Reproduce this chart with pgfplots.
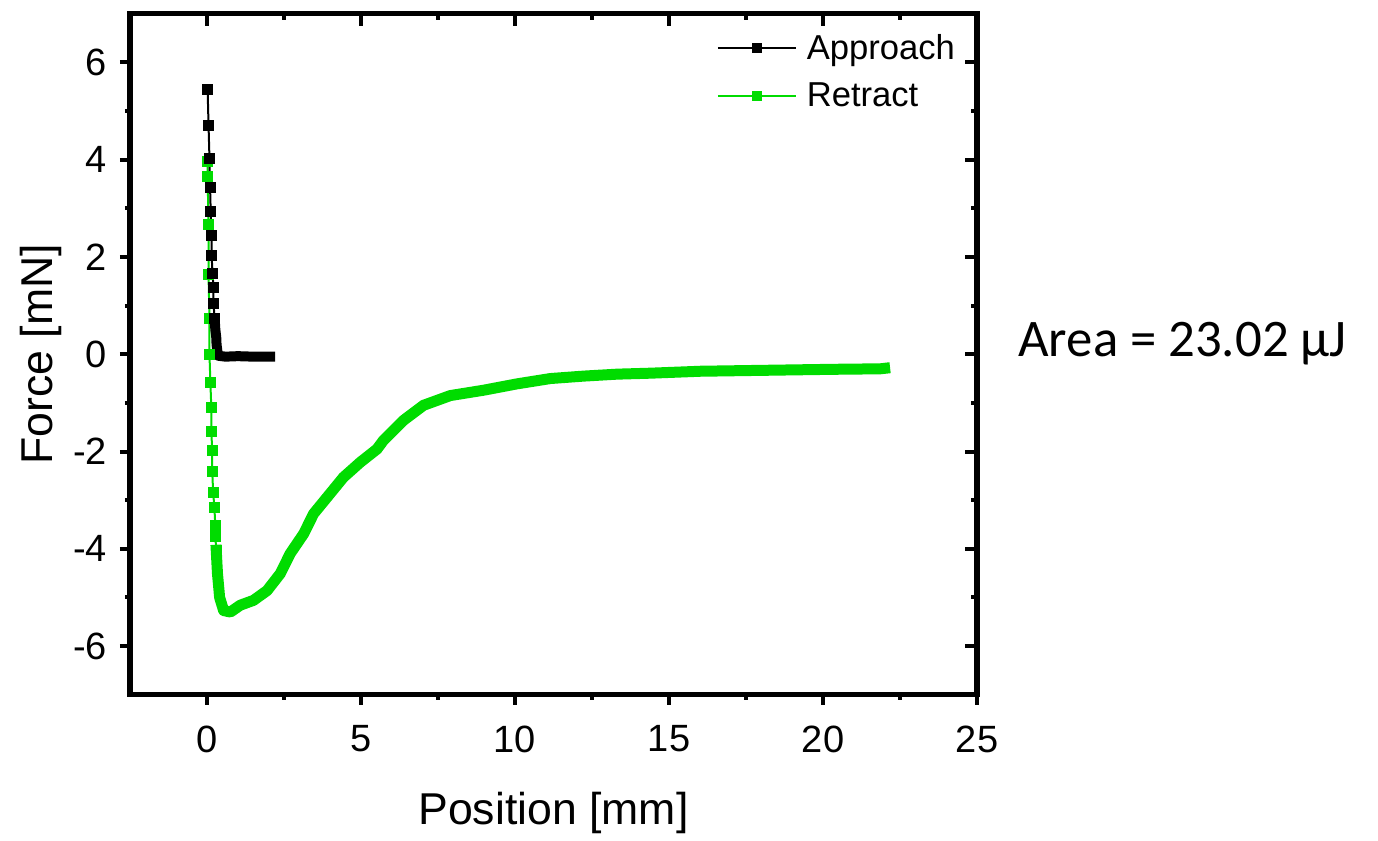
\documentclass[border=0pt]{standalone}
\usepackage{pgfplots}
\pgfplotsset{compat=1.18}
\usepackage{fontspec}
\setmainfont{Liberation Sans}
\newfontfamily\carlito{Carlito}
\definecolor{retgreen}{RGB}{0,220,0}

\begin{document}
\begin{tikzpicture}
  % Approach: sparse part (markers), dense tail (thick band)
  \pgfplotstableread{
    x     y
    0.02  5.45
    0.05  4.71
    0.08  4.03
    0.10  3.43
    0.12  2.94
    0.15  2.44
    0.15  2.03
    0.18  1.66
    0.21  1.37
    0.21  1.04
    0.25  0.73
  }\apprsparse
  \pgfplotstableread{
    x     y
    0.25  0.73
    0.27  0.51
    0.30  0.35
    0.31  0.20
    0.33  0.10
    0.35  -0.03
    0.60  -0.05
    1.00  -0.04
    1.50  -0.05
    2.05  -0.05
  }\apprdense
  % Retract
  \pgfplotstableread{
    x     y
    0.02  3.97
    0.02  3.66
    0.05  2.66
    0.05  1.63
    0.08  0.73
    0.08  0.00
    0.11  -0.58
    0.14  -1.10
    0.14  -1.59
    0.17  -1.98
    0.17  -2.41
    0.20  -2.84
    0.24  -3.15
    0.27  -3.52
    0.27  -3.74
    0.30  -4.03
  }\retsparse
  \pgfplotstableread{
    x      y
    0.30   -4.03
    0.34   -4.51
    0.41   -5.00
    0.54   -5.27
    0.76   -5.30
    1.08   -5.16
    1.51   -5.06
    1.95   -4.86
    2.38   -4.51
    2.70   -4.10
    3.14   -3.69
    3.46   -3.28
    3.90   -2.94
    4.43   -2.53
    4.98   -2.22
    5.52   -1.95
    5.73   -1.77
    6.38   -1.36
    7.03   -1.05
    7.90   -0.85
    8.98   -0.74
    10.06  -0.61
    11.15  -0.50
    12.23  -0.45
    13.31  -0.41
    14.39  -0.39
    16.02  -0.35
    18.18  -0.33
    20.34  -0.31
    21.86  -0.30
    22.00  -0.29
  }\retdense

  \pgfplotsset{
    frame/.style={
      scale only axis,
      width=423.5pt, height=340.5pt,
      xmin=-2.5, xmax=25, ymin=-7, ymax=7,
      xtick={0,5,...,25}, ytick={-6,-4,...,6},
      minor x tick num=1, minor y tick num=1,
      axis line style={line width=2.75pt, line cap=rect},
      every tick/.style={line width=2pt, black},
    },
  }

  \begin{axis}[
    frame,
    tick align=outside,
    xtick pos=bottom, ytick pos=left,
    major tick length=5pt, minor tick length=2.5pt,
    tick label style={font=\fontsize{19}{22}\selectfont},
    /pgf/number format/assume math mode=true,
    xticklabel style={yshift=-7pt},
    yticklabel style={xshift=-3pt},
    xlabel={Position [mm]}, ylabel={Force [mN]},
    label style={font=\fontsize{22.3}{26}\selectfont},
    xlabel style={at={(axis description cs:0.5,-0.174)}, anchor=center},
    ylabel style={at={(axis description cs:-0.105,0.5)}, anchor=center},
    legend style={draw=none, fill=none, at={(axis description cs:0.69,0.979)},
      anchor=north west, font=\fontsize{17.3}{21}\selectfont,
      row sep=6pt, inner sep=1pt,
      nodes={inner xsep=5pt}},
    legend cell align=left,
    legend image code/.code={
      \draw[#1, mark repeat=2, mark phase=2]
        plot coordinates {(0pt,0pt) (19.5pt,0pt) (39pt,0pt)};},
    clip=false,
  ]
    \addlegendimage{black, line width=1pt, mark=square*, mark size=2pt}
    \addlegendentry{Approach}
    \addlegendimage{retgreen, line width=1pt, mark=square*, mark size=2pt}
    \addlegendentry{Retract}

    % Retract first (drawn beneath Approach)
    \addplot[forget plot, retgreen, line width=1pt, mark=square*, mark size=2.25pt]
      table {\retsparse};
    \addplot[forget plot, retgreen, line width=5.5pt, line join=round, line cap=rect]
      table {\retdense};
    % Approach
    \addplot[forget plot, black, line width=1pt, mark=square*, mark size=2.25pt]
      table {\apprsparse};
    \addplot[forget plot, black, line width=5pt, line join=round, line cap=rect]
      table {\apprdense};

    \coordinate (sw) at (rel axis cs:0,0);
    \coordinate (ne) at (rel axis cs:1,1);
    \node[anchor=west, inner sep=0pt, font=\carlito\fontsize{26.4}{30}\selectfont]
      at (rel axis cs:1.0484,0.516) {Area = 23.02 µJ};
  \end{axis}

  % mirrored ticks, pointing inward, on top and right
  \begin{axis}[
    frame,
    tick align=inside,
    xtick pos=top, ytick pos=right,
    major tick length=6pt, minor tick length=3pt,
    xticklabels={}, yticklabels={},
  ]
  \end{axis}

  \path (sw) ++(-65pt,-70.65pt) coordinate (bbsw);
  \path (ne) ++(200.5pt,5.35pt) coordinate (bbne);
  \path (bbsw) rectangle (bbne);
\end{tikzpicture}
\end{document}
